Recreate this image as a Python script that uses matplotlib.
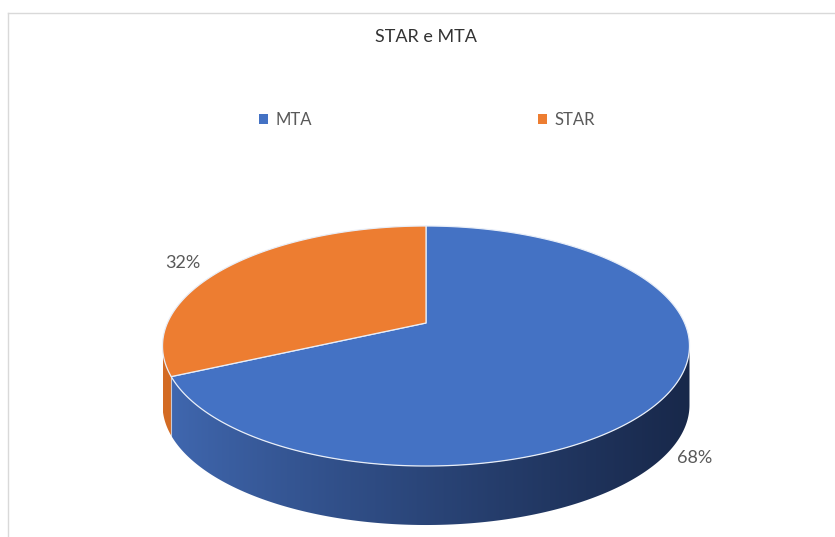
import numpy as np
import matplotlib
matplotlib.use('Agg')
import matplotlib.pyplot as plt
from matplotlib.patches import Polygon, Patch
from matplotlib.colors import to_rgb

# ---- data ----
title = "STAR e MTA"
categories = ["MTA", "STAR"]
values = [68, 32]
labels = ["68%", "32%"]

top_colors = ["#4472c4", "#ed7d31"]
side_light = ["#4169b2", "#d46c25"]
side_dark = ["#18284a", "#8a4515"]
text_color = "#595959"

W, H = 835, 537
fig = plt.figure(figsize=(W / 100, H / 100), dpi=100)
ax = fig.add_axes([0, 0, 1, 1])
ax.set_xlim(0, W)
ax.set_ylim(H, 0)
ax.axis('off')
plt.rcParams['font.family'] = ['Lato', 'DejaVu Sans']

# chart border (top and left visible)
ax.plot([8, W], [13, 13], color="#d9d9d9", lw=1)
ax.plot([8, 8], [13, H], color="#d9d9d9", lw=1)

# perspective disk projection
cx, cy = 426, 323
a, b, k = 258.6, 115.6, -0.1917
depth = 59


def proj(phi, r=1.0):
    u = r * np.cos(phi)
    v = r * np.sin(phi)
    den = 1 + k * v
    return cx + a * u / den, cy + b * v / den


total = float(sum(values))
phi0 = -np.pi / 2
bounds = [phi0]
for val in values:
    bounds.append(bounds[-1] + 2 * np.pi * val / total)

# ---- side wall (gradient clipped to each slice's visible wall) ----
phiR = np.arcsin(-k)
phiL = np.pi - phiR
xmin, xmax = proj(phiL)[0], proj(phiR)[0]
ytop_img, ybot_img = 330, 535
gx = np.linspace(0, 1, 512) ** 0.85

for i in range(len(values)):
    lo, hi = bounds[i], bounds[i + 1]
    # intersect [lo,hi] (mod 2pi) with visible [phiR, phiL]
    segs = []
    for shift in (-2 * np.pi, 0, 2 * np.pi):
        s0 = max(lo + shift, phiR)
        s1 = min(hi + shift, phiL)
        if s1 > s0:
            segs.append((s0, s1))
    for s0, s1 in segs:
        ph = np.linspace(s0, s1, 400)
        px, py = proj(ph)
        pts = list(zip(px, py)) + list(zip(px[::-1], py[::-1] + depth))
        poly = Polygon(pts, closed=True, facecolor='none', edgecolor='none')
        ax.add_patch(poly)
        c0 = np.array(to_rgb(side_light[i]))
        c1 = np.array(to_rgb(side_dark[i]))
        grad = c0[None, :] * (1 - gx[:, None]) + c1[None, :] * gx[:, None]
        img = np.repeat(grad[None, :, :], 2, axis=0)
        im = ax.imshow(img, extent=(xmin, xmax, ybot_img, ytop_img), aspect='auto',
                       interpolation='bilinear', zorder=1)
        im.set_clip_path(poly)
        # side separators
        for e in (s0, s1):
            if phiR + 1e-6 < e < phiL - 1e-6:
                x, y = proj(e)
                ax.plot([x, x], [y, y + depth], color="white", alpha=0.35, lw=0.8, zorder=2)

ax.set_xlim(0, W)
ax.set_ylim(H, 0)

# ---- top face ----
for i in range(len(values)):
    ph = np.linspace(bounds[i], bounds[i + 1], 300)
    px, py = proj(ph)
    pts = [(cx, cy)] + list(zip(px, py))
    ax.add_patch(Polygon(pts, closed=True, facecolor=top_colors[i],
                         edgecolor="#e8eef8", lw=0.9, joinstyle='round', zorder=3))

# ---- data labels ----
offsets = [(8, 66, 'left'), (-28, -4, 'right')]
for i, lab in enumerate(labels):
    mid = 0.5 * (bounds[i] + bounds[i + 1])
    x, y = proj(mid)
    dx, dy, ha = offsets[i]
    ax.text(x + dx, y + dy, lab, ha=ha, va='center', fontsize=13, color=text_color, zorder=4)

# ---- title ----
ax.text(W / 2 + 8, 37, title, ha='center', va='center', fontsize=13, color="#333333")

# ---- legend ----
handles = [Patch(facecolor=top_colors[i], edgecolor='none') for i in range(len(categories))]
leg = ax.legend(handles, categories, loc='center', bbox_to_anchor=(427 / W, 1 - 120 / H),
                ncol=2, frameon=False, fontsize=12, handlelength=0.55, handleheight=0.55,
                handletextpad=0.45, columnspacing=13.6, labelcolor=text_color)

fig.savefig("out.png", dpi=100)
